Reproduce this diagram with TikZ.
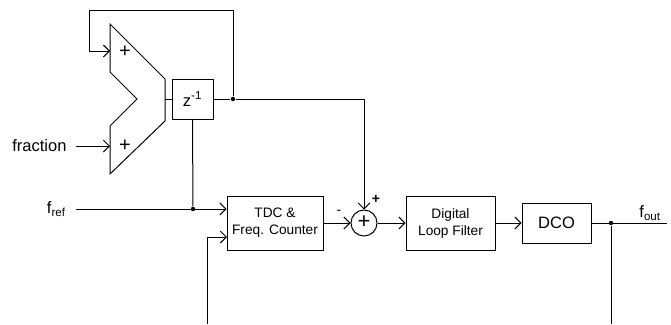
\documentclass[tikz,border=0pt]{standalone}
\usepackage{fontspec}
\setmainfont{Liberation Sans}
\usetikzlibrary{arrows.meta}
\begin{document}
\begin{tikzpicture}[x=1pt,y=-1pt,line width=1pt,
  arr/.style={-{Straight Barb[length=6pt,width=12pt]}},
  blk/.style={draw,inner sep=0pt,align=center,font=\fontsize{13.7}{17}\selectfont},
  big/.style={font=\fontsize{16.5}{19}\selectfont},
  dot/.style={circle,fill,inner sep=0pt,minimum size=4.5pt},
  lbl/.style={inner sep=0pt,font=\fontsize{16.5}{19}\selectfont}]
\useasboundingbox (0,0) rectangle (671,324);
% adder shape
\draw (110,24) -- (165,79) -- (165,121) -- (110,174) -- (110,126) -- (137,99) -- (110,72) -- cycle;
\node[lbl,font=\fontsize{20}{20}\selectfont] (p1) at (125,52) {+};
\node[lbl,font=\fontsize{20}{20}\selectfont] (p2) at (125,146) {+};
\coordinate (aout) at (165,99);
\coordinate (in1) at (110,51);
\coordinate (in2) at (110,146);
% blocks
\node[blk,big,minimum width=41pt,minimum height=40pt] (z) at (192.5,99) {z\textsuperscript{-1}};
\node[blk,minimum width=96pt,minimum height=54pt] (tdc) at (275,223) {TDC \&\\Freq. Counter};
\node[draw,circle,inner sep=0pt,minimum size=26pt] (sum) at (364,223) {};
\node[lbl,font=\fontsize{22}{22}\selectfont] (sp) at (364,222) {+};
\node[blk,minimum width=89pt,minimum height=54pt] (dlf) at (450.5,223) {Digital\\Loop Filter};
\node[blk,big,minimum width=69pt,minimum height=40pt] (dco) at (556.5,223) {DCO};
% labels
\node[lbl,anchor=east] (frac) at (67,146) {fraction};
\node[lbl,anchor=east] (fref) at (66,209) {f\textsubscript{ref}};
\node[lbl] (fout) at (650,213) {f\textsubscript{out}};
\node[lbl,font=\fontsize{14}{14}\selectfont] (minus) at (339,212) {-};
\node[lbl,font=\fontsize{14}{14}\selectfont,font=\bfseries\fontsize{14}{14}\selectfont] (plus) at (376,199) {+};
% junctions
\node[dot] (j1) at (233,99) {};
\node[dot] (j2) at (193,209) {};
\node[dot] (j3) at (611,223) {};
\coordinate (fbtop) at (233,10);
\coordinate (fbleft) at (89,10);
\coordinate (fracs) at (76,146);
\coordinate (frefs) at (76,209);
\coordinate (fbbot) at (207,324);
\coordinate (tdcin2) at (227,237);
\coordinate (outend) at (667,223);
\coordinate (outbot) at (611,324);
% connectors
\draw (aout) -- (z.west);
\draw (z.east) -- (j1);
\draw[arr] (j1) -| (sum.north);
\draw[arr] (j1) -- (fbtop) -- (fbleft) |- (in1);
\draw[arr] (fracs) -- (in2);
\draw (z.south) -- (j2);
\draw[arr] (frefs) -- (j2 -| tdc.west);
\draw[arr] (fbbot) |- (tdcin2);
\draw[arr] (tdc.east) -- (sum.west);
\draw[arr] (sum.east) -- (dlf.west);
\draw[arr] (dlf.east) -- (dco.west);
\draw (dco.east) -- (outend);
\draw (j3) -- (outbot);
\end{tikzpicture}
\end{document}
